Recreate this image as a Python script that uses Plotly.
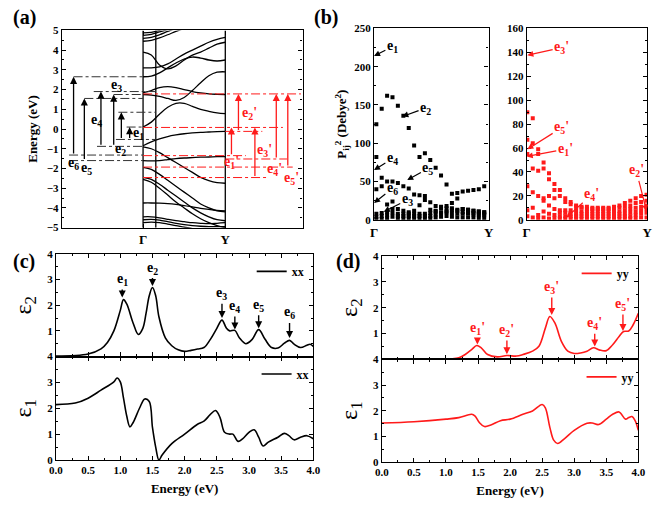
import plotly.graph_objects as go

W, H = 660, 507
FONT = "Liberation Serif, Times New Roman, serif"
BLACK = "black"
RED = "#ff1a1a"

# ---------------- Panel (a): band structure ----------------
K_BAND = [0.0, 0.1, 0.2, 0.3, 0.4, 0.5, 0.6, 0.7, 0.8, 0.9, 1.0]
BANDS_CONDUCTION = [
    [0.10, 0.35, 0.75, 1.10, 1.30, 1.30, 1.15, 1.00, 0.90, 0.82, 0.78],
    [1.75, 1.72, 1.65, 1.55, 1.45, 1.60, 1.95, 2.35, 2.70, 2.88, 2.90],
    [1.85, 1.95, 2.10, 2.15, 2.10, 2.00, 1.90, 1.83, 1.78, 1.76, 1.75],
    [2.65, 2.68, 2.85, 3.10, 3.35, 3.55, 3.65, 3.60, 3.50, 3.45, 3.50],
    [3.10, 3.10, 3.15, 3.30, 3.55, 3.80, 4.00, 4.20, 4.40, 4.55, 4.65],
    [3.90, 3.75, 3.25, 3.05, 3.20, 3.50, 3.75, 3.90, 4.10, 4.30, 4.40],
    [4.45, 4.50, 4.62, 4.78, 4.95, 5.10, 5.30, 5.50, 5.70, 5.90, 6.00],
    [4.60, 4.65, 4.78, 4.95, 5.10, 5.30, 5.50, 5.70, 5.90, 6.00, 6.10],
    [4.75, 4.80, 4.92, 5.05, 5.20, 5.40, 5.60, 5.80, 6.00, 6.10, 6.20],
    [4.88, 4.90, 5.00, 5.15, 5.30, 5.50, 5.70, 5.90, 6.00, 6.10, 6.20],
]
BANDS_VALENCE = [
    [-0.85, -0.65, -0.50, -0.38, -0.30, -0.24, -0.20, -0.17, -0.15, -0.13, -0.12],
    [-0.90, -1.00, -1.20, -1.45, -1.70, -1.95, -2.20, -2.45, -2.62, -2.72, -2.75],
    [-1.60, -1.62, -1.60, -1.55, -1.50, -1.47, -1.45, -1.43, -1.42, -1.40, -1.40],
    [-1.95, -2.05, -2.30, -2.60, -2.90, -3.20, -3.50, -3.80, -4.00, -4.15, -4.20],
    [-2.45, -2.55, -2.80, -3.10, -3.40, -3.70, -4.00, -4.25, -4.45, -4.60, -4.65],
    [-2.55, -2.70, -3.00, -3.35, -3.70, -4.00, -4.30, -4.55, -4.75, -4.90, -5.00],
    [-3.75, -3.75, -3.76, -3.78, -3.82, -3.88, -3.95, -4.02, -4.08, -4.13, -4.15],
    [-4.45, -4.45, -4.50, -4.58, -4.65, -4.70, -4.75, -4.78, -4.80, -4.78, -4.75],
    [-4.60, -4.58, -4.62, -4.70, -4.78, -4.85, -4.90, -4.93, -4.95, -4.95, -4.95],
    [-4.75, -4.72, -4.75, -4.82, -4.90, -4.97, -5.05, -5.10, -5.10, -5.10, -5.10],
]
K_SPECIAL = [0.0, 0.155, 1.0]
K_TICKS = [0.0, 1.0]
K_TICK_TEXT = ["Γ", "Y"]

BLACK_LEVEL_E = [2.65, 1.90, 1.75, 1.55, 0.85, 0.10, -0.53, -0.88, -1.32, -1.60]
BLACK_LEVEL_K0 = [-0.845, -0.60, -0.357, -0.714, -0.30, -0.20, -0.33, -0.56, -0.90, -0.90]
BLACK_LEVEL_K1 = [0.0, 0.155, 0.0, 0.0, 0.155, 0.0, 0.155, 0.0, 0.0, 0.0]
BLACK_TRANS_K = [-0.845, -0.714, -0.512, -0.357, -0.264, -0.163]
BLACK_TRANS_FROM = [-1.32, -1.60, -0.88, -0.88, -0.53, -0.53]
BLACK_TRANS_TO = [2.65, 1.55, 1.90, 1.75, 0.85, 0.10]
BLACK_LABELS = ["e<sub>6</sub>", "e<sub>5</sub>", "e<sub>4</sub>", "e<sub>3</sub>", "e<sub>1</sub>", "e<sub>2</sub>"]
BLACK_LABEL_K = [-0.85, -0.69, -0.57, -0.32, -0.05, -0.27]
BLACK_LABEL_E = [-1.75, -1.98, 0.45, 2.20, -0.22, -1.02]

RED_LEVEL_E = [1.78, 0.08, -0.12, -1.35, -1.52, -1.93, -2.46]
RED_LEVEL_K0 = [0.0, 0.0, 1.0, 0.0, 1.0, 0.0, 0.0]
RED_LEVEL_K1 = [1.92, 1.70, 1.45, 1.25, 1.75, 1.82, 1.50]
RED_TRANS_K = [1.075, 1.16, 1.36, 1.62, 1.76]
RED_TRANS_FROM = [-1.35, -0.12, -2.46, -1.52, -1.93]
RED_TRANS_TO = [0.08, 1.78, 0.08, 1.78, 1.78]
RED_LABELS = ["e<sub>1</sub>'", "e<sub>2</sub>'", "e<sub>3</sub>'", "e<sub>4</sub>'", "e<sub>5</sub>'"]
RED_LABEL_K = [1.07, 1.30, 1.48, 1.60, 1.80]
RED_LABEL_E = [-1.68, 0.79, -1.09, -2.03, -2.50]

# ---------------- Panel (b): transition dipoles ----------------
KB_L = [0.02, 0.067, 0.114, 0.161, 0.208, 0.256, 0.303, 0.35, 0.397, 0.444, 0.491,
        0.538, 0.585, 0.633, 0.68, 0.727, 0.774, 0.821, 0.868, 0.915, 0.962]
PL_1 = [125, 145, 162, 160, 149, 136, 120, 97, 82, 87, 78, 68, 58, 46, 34, 35, 37, 38, 39, 40, 44]
PL_2 = [82, 55, 50, 50, 48, 44, 41, 33, 19, 31, 23, 18, 17, 15, 22, 28, 14, 13, 12, 11, 10]
PL_3 = [40, 44, 20, 24, 14, 12, 10, 12, 32, 26, 13, 11, 10, 10, 13, 12, 10, 9, 9, 8, 8]
PL_4 = [8, 9, 10, 14, 8, 8, 8, 8, 8, 8, 9, 12, 15, 18, 15, 13, 14, 13, 12, 11, 10]
PL_5 = [4, 5, 6, 9, 5, 5, 5, 5, 5, 5, 5, 7, 9, 11, 9, 8, 8, 8, 7, 6, 6]
PL_6 = [1, 1, 2, 4, 2, 2, 2, 2, 2, 2, 2, 3, 4, 5, 4, 3, 3, 3, 3, 2, 2]
PL_ARROW_LABELS = ["e<sub>1</sub>", "e<sub>2</sub>", "e<sub>4</sub>", "e<sub>5</sub>", "e<sub>6</sub>", "e<sub>3</sub>"]
PL_ARROW_TIP_K = [0.0, 0.247, 0.0, 0.29, 0.0, 0.085]
PL_ARROW_TIP_V = [214, 135, 65, 52, 22, 10.6]
PL_ARROW_TXT_K = [0.16, 0.45, 0.16, 0.47, 0.16, 0.29]
PL_ARROW_TXT_V = [226, 146, 80, 67, 41, 26]

KB_R = [0.005 + 0.045 * i for i in range(23)]
PR_1 = [90, 85, 59, 48, 39, 30, 25, 18, 15, 12, 11, 11, 10, 10, 10, 10, 11, 12, 14, 16, 18, 20, 21]
PR_2 = [67, 64, 55, 43, 34, 25, 20, 15, 13, 11, 10, 9, 9, 9, 9, 9, 9, 10, 11, 12, 14, 15, 16]
PR_3 = [55, 43, 41, 18, 20, 18, 8, 8, 8, 8, 7, 7, 7, 7, 7, 7, 7, 7, 8, 9, 10, 11, 12]
PR_4 = [28, 23, 20, 16, 12, 9, 6, 6, 6, 5, 5, 5, 5, 5, 5, 5, 5, 5, 5, 6, 7, 8, 9]
PR_5 = [8, 10, 4, 7, 5, 4, 3, 3, 3, 3, 3, 3, 3, 3, 3, 3, 3, 3, 3, 3, 4, 5, 6]
PR_6 = [3, 2, 1, 2, 1, 1, 1, 1, 1, 1, 1, 1, 1, 1, 1, 1, 1, 1, 1, 1, 1, 2, 2]
PR_ARROW_LABELS = ["e<sub>3</sub>'", "e<sub>5</sub>'", "e<sub>1</sub>'", "e<sub>4</sub>'", "e<sub>2</sub>'"]
PR_ARROW_TIP_K = [0.005, 0.005, 0.0, 0.33, 0.995]
PR_ARROW_TIP_V = [137.7, 59, 53, 2, 7.4]
PR_ARROW_TXT_K = [0.29, 0.29, 0.32, 0.54, 0.91]
PR_ARROW_TXT_V = [144, 77, 59, 21, 41]

# ---------------- Panel (c): xx dielectric function ----------------
E_XX_2 = [0.0, 0.5, 0.7, 0.8, 0.9, 1.0, 1.05, 1.1, 1.2, 1.28, 1.35, 1.4, 1.45, 1.5, 1.55, 1.6,
          1.7, 1.8, 1.9, 2.0, 2.1, 2.2, 2.3, 2.4, 2.5, 2.58, 2.65, 2.7, 2.78, 2.85, 2.95, 3.05,
          3.15, 3.25, 3.35, 3.45, 3.55, 3.63, 3.7, 3.8, 3.9, 3.95, 4.0]
EPS2_XX = [0.02, 0.1, 0.3, 0.55, 1.0, 1.8, 2.22, 2.05, 1.3, 0.86, 1.1, 1.68, 2.37, 2.69, 2.37, 1.55,
           0.73, 0.42, 0.26, 0.2, 0.24, 0.29, 0.35, 0.67, 1.1, 1.42, 1.1, 1.0, 1.02, 0.73, 0.5, 0.67,
           1.05, 0.67, 0.35, 0.33, 0.52, 0.63, 0.48, 0.35, 0.44, 0.48, 0.39]
E_XX_1 = [0.0, 0.3, 0.5, 0.7, 0.9, 0.95, 1.0, 1.05, 1.1, 1.15, 1.2, 1.3, 1.38, 1.45, 1.5, 1.55,
          1.6, 1.65, 1.8, 2.0, 2.2, 2.3, 2.4, 2.48, 2.55, 2.62, 2.7, 2.75, 2.83, 2.9, 3.0, 3.08,
          3.15, 3.22, 3.3, 3.45, 3.55, 3.62, 3.7, 3.8, 3.9, 4.0]
EPS1_XX = [2.14, 2.2, 2.39, 2.7, 3.02, 3.17, 3.02, 2.39, 1.7, 1.28, 1.45, 2.01, 2.36, 2.26, 1.26, 0.5,
           0.0, 0.19, 0.63, 1.0, 1.38, 1.5, 1.76, 1.91, 1.64, 1.07, 1.0, 1.0, 0.72, 0.82, 1.07, 1.17,
           0.88, 0.54, 0.69, 0.88, 1.03, 0.94, 0.78, 0.88, 0.94, 0.82]
XX_PEAK_LABELS = ["e<sub>1</sub>", "e<sub>2</sub>", "e<sub>3</sub>", "e<sub>4</sub>", "e<sub>5</sub>", "e<sub>6</sub>"]
XX_PEAK_E = [1.03, 1.5, 2.58, 2.78, 3.15, 3.63]
XX_ARROW_TIP = [2.3, 2.75, 1.5, 1.05, 1.1, 0.72]
XX_LABEL_Y = [3.0, 3.45, 2.45, 1.95, 2.0, 1.7]

# ---------------- Panel (d): yy dielectric function ----------------
E_YY_2 = [0.0, 1.1, 1.2, 1.3, 1.4, 1.48, 1.55, 1.65, 1.8, 1.95, 2.1, 2.2, 2.35, 2.45, 2.55, 2.62,
          2.7, 2.8, 2.9, 3.0, 3.1, 3.2, 3.3, 3.4, 3.5, 3.6, 3.7, 3.77, 3.85, 3.92, 4.0]
EPS2_YY = [0.02, 0.02, 0.06, 0.19, 0.38, 0.54, 0.45, 0.19, 0.1, 0.15, 0.13, 0.19, 0.32, 0.51, 1.21, 1.66,
           1.4, 0.7, 0.32, 0.23, 0.25, 0.32, 0.45, 0.36, 0.34, 0.57, 0.89, 1.08, 1.1, 1.34, 1.78]
E_YY_1 = [0.0, 0.5, 1.0, 1.2, 1.4, 1.45, 1.52, 1.6, 1.7, 1.85, 2.0, 2.2, 2.35, 2.5, 2.55, 2.62,
          2.68, 2.74, 2.85, 3.0, 3.2, 3.28, 3.38, 3.5, 3.6, 3.7, 3.8, 3.85, 3.9, 3.95, 4.0]
EPS1_YY = [1.52, 1.57, 1.67, 1.73, 1.86, 1.8, 1.54, 1.38, 1.44, 1.61, 1.67, 1.86, 1.99, 2.24, 2.11, 1.35,
           0.85, 0.72, 0.91, 1.23, 1.51, 1.52, 1.46, 1.67, 1.86, 1.95, 1.67, 1.73, 1.77, 1.61, 1.23]
YY_PEAK_LABELS = ["e<sub>1</sub>'", "e<sub>2</sub>'", "e<sub>3</sub>'", "e<sub>4</sub>'", "e<sub>5</sub>'"]
YY_PEAK_E = [1.49, 1.95, 2.65, 3.32, 3.76]
YY_ARROW_TIP = [0.58, 0.2, 1.72, 0.5, 1.1]
YY_LABEL_Y = [1.2, 1.12, 2.78, 1.38, 2.12]

# =====================================================================
def xd(a, b):
    return [a / W, b / W]


def yd(top, bot):
    return [1 - bot / H, 1 - top / H]


fig = go.Figure()
TICKFONT = dict(family=FONT, size=11, color="black", weight="bold")
LBLFONT = dict(family=FONT, size=13, color="black", weight="bold")
EPSFONT = dict(family=FONT, size=24, color="black")

# Panel (a)
for vals in BANDS_CONDUCTION + BANDS_VALENCE:
    fig.add_trace(go.Scatter(x=K_BAND, y=vals, mode="lines", line=dict(color=BLACK, width=1.3, shape="spline"),
                             showlegend=False, xaxis="x", yaxis="y"))
for k in K_SPECIAL:
    fig.add_trace(go.Scatter(x=[k, k], y=[-5, 5], mode="lines", line=dict(color=BLACK, width=1.3),
                             showlegend=False, xaxis="x", yaxis="y"))
for e, k0, k1 in zip(BLACK_LEVEL_E, BLACK_LEVEL_K0, BLACK_LEVEL_K1):
    fig.add_trace(go.Scatter(x=[k0, k1], y=[e, e], mode="lines", line=dict(color="#333333", width=1, dash="dashdot"),
                             showlegend=False, xaxis="x", yaxis="y"))
for e, k0, k1 in zip(RED_LEVEL_E, RED_LEVEL_K0, RED_LEVEL_K1):
    fig.add_trace(go.Scatter(x=[k0, k1], y=[e, e], mode="lines", line=dict(color=RED, width=1, dash="dashdot"),
                             showlegend=False, xaxis="x", yaxis="y"))

annotations = []
for k, e0, e1 in zip(BLACK_TRANS_K, BLACK_TRANS_FROM, BLACK_TRANS_TO):
    annotations.append(dict(x=k, y=e1, ax=k, ay=e0, xref="x", yref="y", axref="x", ayref="y", text="",
                            showarrow=True, arrowhead=2, arrowsize=1.1, arrowwidth=1.3, arrowcolor=BLACK))
for k, e0, e1 in zip(RED_TRANS_K, RED_TRANS_FROM, RED_TRANS_TO):
    annotations.append(dict(x=k, y=e1, ax=k, ay=e0, xref="x", yref="y", axref="x", ayref="y", text="",
                            showarrow=True, arrowhead=2, arrowsize=1.1, arrowwidth=1.3, arrowcolor=RED))
for t, k, e in zip(BLACK_LABELS, BLACK_LABEL_K, BLACK_LABEL_E):
    annotations.append(dict(x=k, y=e, xref="x", yref="y", text=t, showarrow=False,
                            font=dict(family=FONT, size=14, color=BLACK, weight="bold")))
for t, k, e in zip(RED_LABELS, RED_LABEL_K, RED_LABEL_E):
    annotations.append(dict(x=k, y=e, xref="x", yref="y", text=t, showarrow=False,
                            font=dict(family=FONT, size=14, color=RED, weight="bold")))

# Panel (b)
for vals in [PL_1, PL_2, PL_3, PL_4, PL_5, PL_6]:
    fig.add_trace(go.Scatter(x=KB_L, y=vals, mode="markers", marker=dict(symbol="square", size=4, color=BLACK),
                             showlegend=False, xaxis="x2", yaxis="y2"))
for vals in [PR_1, PR_2, PR_3, PR_4, PR_5, PR_6]:
    fig.add_trace(go.Scatter(x=KB_R, y=vals, mode="markers", marker=dict(symbol="square", size=4, color=RED),
                             showlegend=False, xaxis="x3", yaxis="y3"))
for t, tk, tv, k, v in zip(PL_ARROW_LABELS, PL_ARROW_TIP_K, PL_ARROW_TIP_V, PL_ARROW_TXT_K, PL_ARROW_TXT_V):
    annotations.append(dict(x=tk, y=tv, ax=k, ay=v, xref="x2", yref="y2", axref="x2", ayref="y2", text=t,
                            showarrow=True, arrowhead=2, arrowsize=1, arrowwidth=1.2, arrowcolor=BLACK,
                            font=dict(family=FONT, size=14, color=BLACK, weight="bold")))
for t, tk, tv, k, v in zip(PR_ARROW_LABELS, PR_ARROW_TIP_K, PR_ARROW_TIP_V, PR_ARROW_TXT_K, PR_ARROW_TXT_V):
    annotations.append(dict(x=tk, y=tv, ax=k, ay=v, xref="x3", yref="y3", axref="x3", ayref="y3", text=t,
                            showarrow=True, arrowhead=2, arrowsize=1, arrowwidth=1.2, arrowcolor=RED,
                            font=dict(family=FONT, size=14, color=RED, weight="bold")))

# Panel (c)
fig.add_trace(go.Scatter(x=E_XX_2, y=EPS2_XX, mode="lines", name="xx", line=dict(color=BLACK, width=1.6, shape="spline"),
                         xaxis="x4", yaxis="y4", legend="legend"))
fig.add_trace(go.Scatter(x=E_XX_1, y=EPS1_XX, mode="lines", name="xx", line=dict(color=BLACK, width=1.6, shape="spline"),
                         xaxis="x5", yaxis="y5", legend="legend2"))
for t, e, tip, ly in zip(XX_PEAK_LABELS, XX_PEAK_E, XX_ARROW_TIP, XX_LABEL_Y):
    annotations.append(dict(x=e, y=tip, ax=e, ay=ly, xref="x4", yref="y4", axref="x4", ayref="y4", text=t,
                            showarrow=True, arrowhead=2, arrowsize=1, arrowwidth=1.4, arrowcolor=BLACK,
                            font=dict(family=FONT, size=14, color=BLACK, weight="bold")))
# Panel (d)
fig.add_trace(go.Scatter(x=E_YY_2, y=EPS2_YY, mode="lines", name="yy", line=dict(color=RED, width=1.6, shape="spline"),
                         xaxis="x6", yaxis="y6", legend="legend3"))
fig.add_trace(go.Scatter(x=E_YY_1, y=EPS1_YY, mode="lines", name="yy", line=dict(color=RED, width=1.6, shape="spline"),
                         xaxis="x7", yaxis="y7", legend="legend4"))
for t, e, tip, ly in zip(YY_PEAK_LABELS, YY_PEAK_E, YY_ARROW_TIP, YY_LABEL_Y):
    annotations.append(dict(x=e, y=tip, ax=e, ay=ly, xref="x6", yref="y6", axref="x6", ayref="y6", text=t,
                            showarrow=True, arrowhead=2, arrowsize=1, arrowwidth=1.4, arrowcolor=RED,
                            font=dict(family=FONT, size=14, color=RED, weight="bold")))

# Panel letters
for t, px, py in [("(a)", 4, 12), ("(b)", 312, 12), ("(c)", 4, 262), ("(d)", 334, 262)]:
    annotations.append(dict(x=px / W, y=1 - py / H, xref="paper", yref="paper", text=t, showarrow=False,
                            xanchor="left", yanchor="middle", font=dict(family=FONT, size=20, color="black", weight="bold")))


def ax(**kw):
    base = dict(showline=True, linecolor="black", linewidth=1.2, mirror="allticks", ticks="inside", ticklen=4,
                tickcolor="black", tickwidth=1, showgrid=False, zeroline=False, tickfont=TICKFONT)
    base.update(kw)
    return base


minor_in = lambda d: dict(ticks="inside", ticklen=2, dtick=d, tickcolor="black", showgrid=False)

layout = dict(
    width=W, height=H, margin=dict(l=0, r=0, t=0, b=0), plot_bgcolor="white", paper_bgcolor="white",
    annotations=annotations,
    # (a)
    xaxis=ax(domain=xd(56, 302), range=[-0.988, 1.94], tickvals=K_TICKS, ticktext=K_TICK_TEXT, anchor="y",
             tickfont=dict(TICKFONT, size=13)),
    yaxis=ax(domain=yd(25, 227), range=[-5, 5], dtick=1, anchor="x", minor=minor_in(0.5),
             title=dict(text="Energy (eV)", font=LBLFONT, standoff=6)),
    # (b) left
    xaxis2=ax(domain=xd(375, 492), range=[0, 1], tickvals=K_TICKS, ticktext=K_TICK_TEXT, anchor="y2",
              tickfont=dict(TICKFONT, size=13)),
    yaxis2=ax(domain=yd(23, 219), range=[0, 250], dtick=50, anchor="x2", minor=minor_in(25),
              title=dict(text="P<sub>ij</sub><sup>2</sup> (Debye<sup>2</sup>)", font=LBLFONT, standoff=4)),
    # (b) right
    xaxis3=ax(domain=xd(531, 654), range=[0, 1], tickvals=K_TICKS, ticktext=K_TICK_TEXT, anchor="y3",
              tickfont=dict(TICKFONT, size=13)),
    yaxis3=ax(domain=yd(23, 219), range=[0, 160], dtick=20, anchor="x3", minor=minor_in(10)),
    # (c)
    xaxis4=ax(domain=xd(50, 313), range=[0, 4], dtick=0.5, showticklabels=False, anchor="y4", minor=minor_in(0.25)),
    yaxis4=ax(domain=yd(254, 359), range=[0, 4], tickvals=[1, 2, 3, 4], anchor="x4", minor=minor_in(0.5),
              title=dict(text="ε<sub>2</sub>", font=EPSFONT, standoff=8)),
    xaxis5=ax(domain=xd(50, 313), range=[0, 4], dtick=0.5, tickformat=".1f", anchor="y5", minor=minor_in(0.25),
              title=dict(text="Energy (eV)", font=LBLFONT, standoff=8)),
    yaxis5=ax(domain=yd(359, 465), range=[0, 4], tickvals=[0, 1, 2, 3, 4], anchor="x5", minor=minor_in(0.5),
              title=dict(text="ε<sub>1</sub>", font=EPSFONT, standoff=8)),
    # (d)
    xaxis6=ax(domain=xd(383, 645), range=[0, 4], dtick=0.5, showticklabels=False, anchor="y6", minor=minor_in(0.25)),
    yaxis6=ax(domain=yd(256, 362), range=[0, 4], tickvals=[1, 2, 3, 4], anchor="x6", minor=minor_in(0.5),
              title=dict(text="ε<sub>2</sub>", font=EPSFONT, standoff=8)),
    xaxis7=ax(domain=xd(383, 645), range=[0, 4], dtick=0.5, tickformat=".1f", anchor="y7", minor=minor_in(0.25),
              title=dict(text="Energy (eV)", font=LBLFONT, standoff=8)),
    yaxis7=ax(domain=yd(362, 467), range=[0, 4], tickvals=[0, 1, 2, 3, 4], anchor="x7", minor=minor_in(0.5),
              title=dict(text="ε<sub>1</sub>", font=EPSFONT, standoff=8)),
)
LEG = dict(bgcolor="rgba(0,0,0,0)", font=dict(family=FONT, size=12, color="black", weight="bold"),
           xanchor="left", yanchor="top", itemwidth=30, tracegroupgap=0)
layout["legend"] = dict(LEG, x=250 / W, y=1 - 257 / H)
layout["legend2"] = dict(LEG, x=255 / W, y=1 - 362 / H)
layout["legend3"] = dict(LEG, x=582 / W, y=1 - 259 / H)
layout["legend4"] = dict(LEG, x=587 / W, y=1 - 365 / H)
fig.update_layout(**layout)
fig.write_html("out.html")
